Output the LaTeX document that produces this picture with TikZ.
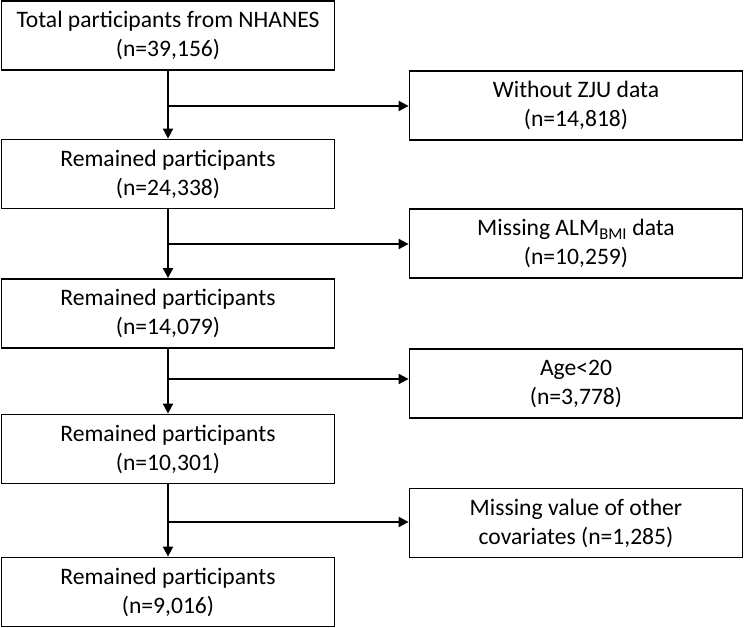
\documentclass[tikz,border=0pt]{standalone}
\usepackage{fontspec}
\setmainfont{Carlito}
\usetikzlibrary{arrows.meta}
\begin{document}
\begin{tikzpicture}[x=1pt,y=1pt,
  box/.style={draw=black, line width=1.8pt, minimum width=333pt, minimum height=69pt,
    align=center, inner sep=0pt, font=\fontsize{23.6}{29}\selectfont},
  arr/.style={line width=2pt, -{Triangle[length=10pt,width=10pt]}}]
\useasboundingbox (0,0) rectangle (744,-628);
% main column
\node[box] (L1) at (168,-35.5) {Total participants from NHANES\\(n=39,156)};
\node[box] (L2) at (168,-174) {Remained participants\\(n=24,338)};
\node[box] (L3) at (168,-313.5) {Remained participants\\(n=14,079)};
\node[box] (L4) at (168,-449) {Remained participants\\(n=10,301)};
\node[box] (L5) at (168,-592) {Remained participants\\(n=9,016)};
% exclusion column
\node[box] (R1) at (576,-105.5) {Without ZJU data\\(n=14,818)};
\node[box] (R2) at (576,-243.5) {Missing ALM\textsubscript{BMI} data\\(n=10,259)};
\node[box] (R3) at (576,-383.5) {Age<20\\(n=3,778)};
\node[box] (R4) at (576,-523) {Missing value of other\\covariates (n=1,285)};
% branch points
\coordinate (b1) at (168,-106);
\coordinate (b2) at (168,-244);
\coordinate (b3) at (168,-379);
\coordinate (b4) at (168,-522);
% vertical arrows
\draw[arr] (L1.south) -- (L2.north);
\draw[arr] (L2.south) -- (L3.north);
\draw[arr] (L3.south) -- (L4.north);
\draw[arr] (L4.south) -- (L5.north);
% horizontal arrows
\draw[arr] (b1) -- (b1 -| R1.west);
\draw[arr] (b2) -- (b2 -| R2.west);
\draw[arr] (b3) -- (b3 -| R3.west);
\draw[arr] (b4) -- (b4 -| R4.west);
\end{tikzpicture}
\end{document}
